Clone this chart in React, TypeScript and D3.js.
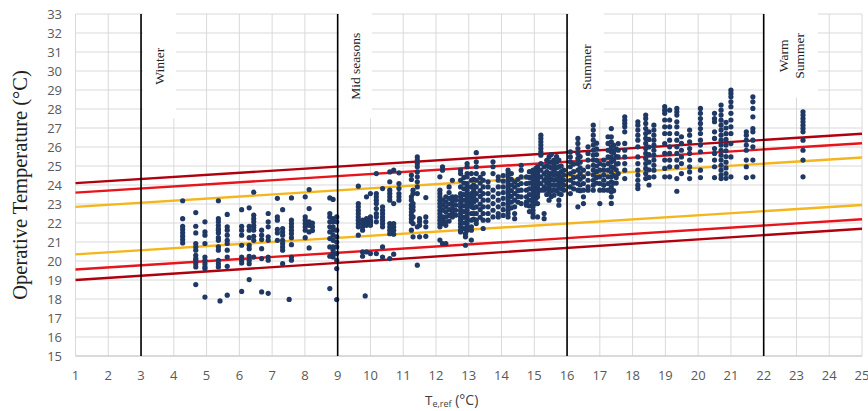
import React from "react";
import * as d3 from "d3";

// ---------- data ----------
const xTicks = d3.range(1, 26);
const yTicks = d3.range(15, 34);

const seasonNames = ["Winter", "Mid seasons", "Summer", "Warm\nSummer"];
const seasonBounds = [3, 9, 16, 22];

// comfort band lines: value at Te,ref = 1 and at Te,ref = 25
const bandStart = [24.1, 23.6, 22.85, 20.35, 19.55, 19.0];
const bandEnd = [26.7, 26.2, 25.45, 22.95, 22.2, 21.7];

// scatter, grouped by columns: [Te,ref, [operative temperatures]]
const winterPoints: [number, number[]][] = [
  [4.27, [23.17, 22.23, 21.83, 21.66, 21.48, 21.3, 21.13, 20.95]],
  [4.67, [22.55, 21.83, 21.48, 20.92, 20.74, 20.57, 20.3, 20.13, 20.04, 19.86, 19.69, 18.76]],
  [4.95, [22.06, 21.53, 21.36, 20.92, 20.21, 20.04, 19.86, 19.69, 19.6, 18.1]],
  [5.36, [23.17, 22.23, 22.06, 21.88, 21.71, 21.62, 21.48, 21.23, 21.09, 20.74, 20.57, 20.04, 19.86, 19.69]],
  [5.41, [17.9]],
  [5.63, [22.45, 21.8, 21.62, 21.36, 21.09, 20.92, 20.57, 20.21, 19.72, 18.2]],
  [6.07, [22.7, 21.83, 21.62, 21.36, 20.83, 20.21, 20.04, 19.9, 18.4]],
  [6.3, [22.8, 21.83, 21.62, 21.23, 20.83, 20.65, 20.25, 20.04, 19.86, 19.02]],
  [6.44, [23.62, 22.41, 22.23, 22.06, 21.88, 21.76, 21.62, 21.3, 21.09, 20.21]],
  [6.68, [21.62, 21.36, 21.13, 20.65, 20.13, 18.37]],
  [6.88, [22.5, 22.06, 21.8, 21.27, 21.09, 20.21, 20.04, 18.3]],
  [7.16, [23.3, 22.32, 22.15, 21.66, 21.48, 21.09]],
  [7.32, [22.7, 21.71, 21.53, 21.36, 21.09, 20.92, 20.74, 20.57, 19.86]],
  [7.52, [17.98]],
  [7.59, [23.32, 22.15, 21.97, 21.8, 21.62, 21.44, 21.23, 20.86, 20.21, 20.04]],
  [8.01, [23.38, 22.32, 22.15, 21.97, 21.8, 21.62, 21.23]],
  [8.13, [23.76, 22.76, 22.06, 21.88, 21.53, 20.69]],
  [8.23, [22.0, 21.8, 21.6]],
  [8.76, [23.32, 22.5, 22.32, 22.06, 21.8, 21.53, 21.18, 20.74, 20.25, 18.55]],
  [8.86, [23.24, 22.23, 22.06, 21.8, 21.62, 21.36, 21.09, 20.74, 20.57, 20.39, 20.21]],
  [8.97, [22.32, 22.06, 21.62, 21.27, 21.0, 20.74, 20.39, 20.04, 19.6, 17.97]],
];

const midSeasonPoints: [number, number[]][] = [
  [9.63, [23.94, 23.02, 22.85, 22.67, 22.5, 22.32, 22.15, 21.97, 21.8, 21.36]],
  [9.76, [22.15, 21.97, 21.8, 21.62, 20.48, 20.25]],
  [9.84, [18.16]],
  [9.88, [23.38, 22.23, 22.06, 21.88, 20.48]],
  [10.0, [23.55, 22.32, 22.15, 22.06, 21.97, 21.88, 20.39]],
  [10.18, [24.6, 23.55, 23.38, 23.2, 23.02, 22.76, 22.5, 22.32, 22.06, 20.39]],
  [10.37, [23.81, 22.85, 22.67, 22.5, 22.32, 22.15, 21.97, 21.8, 20.74, 20.21]],
  [10.59, [24.69, 24.17, 23.73, 23.55, 23.38, 23.2, 21.97, 21.8, 21.62, 21.44, 20.13]],
  [10.71, [24.78, 23.02, 21.97, 21.8, 21.62, 21.41, 20.36]],
  [10.87, [24.64, 24.08, 23.81, 23.55, 23.38, 23.2]],
  [11.25, [24.52, 24.29, 23.38, 23.2, 22.94, 22.76, 22.58, 22.41, 22.23, 22.06, 21.62]],
  [11.3, [23.73, 23.55, 23.02, 22.85, 22.67, 22.32, 21.97, 21.27]],
  [11.43, [25.48, 25.31, 25.13, 24.96, 24.69, 24.43, 24.17, 23.9, 23.55, 21.8, 19.78]],
  [11.5, [22.23, 22.06, 21.88, 21.27]],
  [11.69, [23.34, 22.32, 22.06, 21.8, 21.3]],
  [12.12, [24.43, 23.73, 23.55, 23.38, 23.2, 23.02, 22.85, 22.67, 22.5, 22.32, 22.15, 21.97, 21.8, 21.1]],
  [12.2, [24.96, 24.78, 23.2, 22.94, 22.67, 22.32, 22.15, 21.97, 20.92]],
  [12.3, [23.38, 23.11, 22.85, 22.59, 22.32, 22.06, 21.88, 20.92]],
  [12.4, [23.9, 23.6, 23.3, 23.0, 22.7, 22.4, 22.1]],
  [12.5, [24.25, 23.38, 23.17, 22.96, 22.75, 22.54, 22.32]],
  [12.6, [23.38, 23.2, 22.94, 22.67, 22.41]],
  [12.75, [24.78, 24.6, 24.25, 23.9, 23.55, 23.38, 23.2, 23.02, 22.85, 22.67, 22.5, 22.32, 22.15, 21.97, 21.8, 21.62, 21.53]],
  [12.85, [24.4, 24.1, 23.8, 23.5, 23.2, 22.9, 22.6, 22.3, 22.0, 21.7]],
  [12.9, [21.44, 21.27, 20.83]],
  [12.95, [25.13, 24.96, 24.6, 24.43, 24.08, 23.9, 23.73, 23.55, 23.38, 23.2, 23.02, 22.85, 22.67, 22.5, 22.32, 22.15, 21.97, 21.8, 21.62]],
  [13.08, [24.6, 24.25, 23.9, 23.55, 23.38, 23.2, 23.02, 22.85, 22.5, 22.15, 21.8, 21.62, 21.1]],
  [13.15, [24.3, 24.0, 23.7, 23.4, 23.1, 22.8, 22.5, 22.2]],
  [13.23, [25.7, 25.22, 24.96, 24.6, 24.25, 23.9, 23.55, 23.2, 22.85, 22.5, 22.15, 21.97]],
  [13.35, [24.4, 24.1, 23.7, 23.4, 23.0, 22.7, 22.3]],
  [13.44, [24.6, 24.25, 23.9, 23.55, 23.2, 22.85, 22.5, 22.15, 21.71]],
  [13.59, [24.17, 23.9, 23.55, 23.2, 22.85, 22.5, 22.15]],
  [13.74, [25.22, 24.96, 24.6, 23.73, 23.38, 23.02, 22.67, 22.32]],
  [13.9, [24.43, 24.25, 23.9, 23.55, 23.2, 22.85, 22.5, 22.32]],
  [14.05, [24.5, 24.2, 23.9, 23.6, 23.3, 23.0, 22.7, 22.4]],
  [14.2, [24.78, 24.6, 24.43, 24.25, 24.08, 23.9, 23.73, 23.55, 23.38, 23.2, 23.02, 22.85, 22.67, 22.5, 22.32]],
  [14.3, [24.6, 24.3, 24.0, 23.7, 23.4, 23.1, 22.8]],
  [14.4, [24.17, 23.9, 23.55, 23.2, 22.85, 22.5, 22.23]],
  [14.5, [24.3, 24.0, 23.7, 23.4, 23.1]],
  [14.6, [25.04, 24.78, 24.43, 24.08, 23.73, 23.38, 23.02]],
  [14.76, [24.43, 24.08, 23.73, 23.38, 23.11, 22.94]],
  [14.85, [24.7, 24.4, 24.1, 23.8, 23.5, 23.2, 22.9, 22.6]],
  [14.96, [24.78, 24.6, 24.43, 24.25, 24.08, 23.9, 23.73, 23.55, 23.38, 23.2, 23.02, 22.85, 22.67, 22.5, 22.32]],
  [15.05, [24.87, 24.6, 24.34, 24.08, 23.81, 23.55, 23.29, 23.02]],
  [15.1, [24.96, 24.78, 24.6, 24.43, 24.25, 24.08, 23.9, 23.73, 23.55, 23.38, 23.02, 22.32]],
  [15.2, [26.62, 26.45, 26.27, 26.1, 25.92, 25.75, 25.57, 25.13, 24.78, 24.43, 24.08, 23.73]],
  [15.3, [24.96, 24.6, 24.25, 23.9, 23.73, 22.5, 22.23]],
  [15.38, [25.3, 25.0, 24.7, 24.4, 24.1, 23.8, 23.5]],
  [15.45, [25.48, 25.22, 24.96, 24.6, 24.43, 24.25, 24.08, 23.9, 23.73, 23.55, 23.2]],
  [15.52, [25.6, 25.2, 24.9, 24.6, 24.3, 24.0, 23.7, 23.4]],
  [15.6, [25.31, 25.04, 24.78, 24.52, 24.25, 23.99, 23.73, 23.46]],
  [15.68, [25.5, 25.2, 24.9, 24.6, 24.3, 24.0, 23.7]],
  [15.75, [25.31, 24.96, 24.6, 24.43, 24.25, 24.08, 23.9, 23.55, 23.2, 22.94]],
  [15.82, [25.0, 24.7, 24.4, 24.1, 23.8, 23.5]],
  [15.9, [24.78, 24.52, 24.25, 23.99, 23.73]],
];

const summerPoints: [number, number[]][] = [
  [16.1, [25.74, 25.48, 25.22, 24.96, 24.6, 24.25, 23.9, 23.55]],
  [16.2, [25.1, 24.7, 24.4, 24.1, 23.8]],
  [16.33, [26.45, 26.19, 25.92, 25.66, 25.4, 25.13, 24.78, 24.43, 24.08, 23.73, 22.85]],
  [16.4, [25.5, 25.2, 24.9, 24.6, 24.3, 24.0, 23.7]],
  [16.5, [24.78, 24.43, 24.08, 23.73, 23.38, 23.02]],
  [16.64, [26.01, 25.66, 25.31, 24.96, 24.6, 24.25, 23.9, 23.73]],
  [16.8, [27.15, 26.89, 26.62, 26.36, 26.1, 25.83, 25.57, 25.31, 25.04, 24.78, 24.52, 24.25, 23.99, 23.73]],
  [16.9, [26.2, 25.9, 25.6, 25.3, 25.0, 24.7, 24.4, 24.1]],
  [17.0, [25.13, 24.78, 24.43, 24.08, 23.73, 23.02]],
  [17.12, [25.31, 25.04, 24.78, 24.52, 24.25, 23.99, 23.73]],
  [17.25, [26.54, 26.19, 25.83, 25.48, 25.13, 24.78, 24.43, 24.08, 23.73]],
  [17.35, [26.97, 26.54, 26.27, 26.01, 25.75, 25.48, 25.22, 24.96, 24.69, 24.43, 24.17, 23.9, 23.64, 23.38, 23.03]],
  [17.42, [26.1, 25.7, 25.3, 24.9, 24.5, 24.1, 23.7]],
  [17.5, [25.9, 25.5, 25.1, 24.8, 24.4, 24.1]],
  [17.56, [26.18, 25.83, 25.48, 25.13, 24.6]],
  [17.76, [27.59, 27.41, 27.24, 27.06, 26.8, 26.19, 25.83, 25.48, 25.13, 24.78, 24.34]],
  [18.16, [27.33, 27.15, 26.89, 26.62, 26.36, 26.01, 25.48, 25.13, 24.78, 24.52, 24.25, 23.99, 23.81]],
  [18.4, [27.68, 27.5, 27.24, 26.97, 26.71, 26.45, 26.19, 25.92, 25.66, 25.4, 25.13, 24.87, 24.6, 24.34]],
  [18.5, [26.8, 26.4, 26.0, 25.6, 25.2, 24.8, 24.4, 24.0]],
  [18.65, [27.15, 26.89, 26.62, 26.36, 26.1, 25.83, 25.57, 25.31, 25.04, 24.78, 24.43]],
  [18.98, [28.12, 27.94, 27.77, 27.42, 27.06, 26.71, 26.18, 25.66, 25.31, 24.87, 24.43]],
  [19.13, [27.94, 27.42, 27.06, 26.71, 26.36, 26.01, 25.66, 25.31, 24.96, 24.43]],
  [19.35, [28.03, 27.85, 27.68, 27.33, 27.06, 26.71, 26.36, 26.01, 25.66, 25.31, 24.96, 24.34, 23.67]],
  [19.49, [26.54, 26.19, 25.83, 25.48, 25.13, 24.6]],
  [19.74, [26.89, 26.62, 26.27, 25.92, 25.66, 25.31, 24.96, 24.69, 24.34]],
  [20.07, [28.03, 27.77, 27.5, 27.24, 26.97, 26.71, 26.36, 26.1, 25.75, 25.31, 24.78, 24.39]],
  [20.5, [27.77, 27.5, 27.33, 26.8, 26.45, 25.92, 25.66, 25.31, 24.96, 24.39]],
  [20.7, [28.21, 27.94, 27.68, 27.41, 27.15, 26.89, 26.62, 26.36, 26.1, 25.83, 25.57, 25.31, 25.04, 24.78, 24.52, 24.34]],
  [20.85, [27.3, 27.0, 26.7, 26.4, 26.1, 25.8, 25.5, 25.2, 24.9, 24.6, 24.35]],
  [21.0, [28.99, 28.82, 28.64, 28.38, 28.12, 27.77, 27.42, 27.06, 26.71, 26.18, 25.48, 24.43]],
  [21.47, [26.8, 26.62, 26.36, 26.1, 25.83, 25.31, 24.96, 24.39]],
  [21.67, [28.64, 28.38, 28.03, 27.59, 26.97, 26.8, 26.36, 26.01, 25.31, 24.43]],
];

const warmSummerPoints: [number, number[]][] = [
  [23.2, [27.85, 27.68, 27.5, 27.33, 27.15, 26.97, 26.8, 26.36, 25.83, 25.31, 24.43]],
];

// ---------- layout / style ----------
const W = 868;
const H = 411;
const plot = { left: 75.5, right: 862, top: 14, bottom: 356 };
const bandColors = ["#b0000e", "#e8141b", "#f4b61c", "#f4b61c", "#e8141b", "#b0000e"];
// label boxes in data units: [x0, x1, yBottom]
const seasonBoxes: [number, number, number][] = [
  [3.06, 4.06, 27.5],
  [9.04, 10.05, 27.5],
  [16.05, 17.12, 27.4],
  [22.04, 23.65, 28.6],
];

export default function App() {
  const x = d3.scaleLinear().domain([1, 25]).range([plot.left, plot.right]);
  const y = d3.scaleLinear().domain([15, 33]).range([plot.bottom, plot.top]);

  const allCols = [...winterPoints, ...midSeasonPoints, ...summerPoints, ...warmSummerPoints];
  const pts: { x: number; y: number }[] = [];
  allCols.forEach(([cx, ys]) => ys.forEach((v) => pts.push({ x: cx, y: v })));

  const line = d3
    .line<[number, number]>()
    .x((d) => x(d[0]))
    .y((d) => y(d[1]));

  return (
    <svg
      width={W}
      height={H}
      style={{ position: "absolute", left: 0, top: 0, background: "#fff" }}
    >
      {/* grid */}
      {yTicks.map((t) => (
        <line key={"gy" + t} x1={plot.left} x2={plot.right} y1={y(t)} y2={y(t)} stroke="#d9d9d9" strokeWidth={1} />
      ))}
      {xTicks.map((t) => (
        <line key={"gx" + t} x1={x(t)} x2={x(t)} y1={plot.top} y2={plot.bottom} stroke="#d9d9d9" strokeWidth={1} />
      ))}
      <line x1={plot.left} x2={plot.right} y1={plot.bottom} y2={plot.bottom} stroke="#c8c8c8" strokeWidth={1.2} />

      {/* season label boxes */}
      {seasonBoxes.map(([a, b, yb], i) => (
        <rect key={"sb" + i} x={x(a)} y={plot.top - 2} width={x(b) - x(a)} height={y(yb) - plot.top + 2} fill="#fff" />
      ))}

      {/* comfort band lines */}
      {bandStart.map((s, i) => (
        <path
          key={"band" + i}
          d={line([
            [1, s],
            [25, bandEnd[i]],
          ]) as string}
          stroke={bandColors[i]}
          strokeWidth={2.4}
          fill="none"
        />
      ))}

      {/* points */}
      {pts.map((p, i) => (
        <circle key={"p" + i} cx={x(p.x)} cy={y(p.y)} r={2.6} fill="#1f3864" />
      ))}

      {/* season boundaries */}
      {seasonBounds.map((b) => (
        <line key={"sl" + b} x1={x(b)} x2={x(b)} y1={plot.top} y2={plot.bottom} stroke="#000" strokeWidth={1.6} />
      ))}

      {/* season labels */}
      {seasonNames.map((name, i) => {
        const [a, b, yb] = seasonBoxes[i];
        const cx = (x(a) + x(b)) / 2;
        const cy = (plot.top + y(yb)) / 2;
        const lines = name.split("\n");
        return (
          <text
            key={"st" + i}
            transform={`translate(${cx},${cy}) rotate(-90)`}
            textAnchor="middle"
            fontFamily="'Liberation Serif', serif"
            fontSize={13.5}
            fill="#222"
          >
            {lines.map((l, j) => (
              <tspan key={j} x={0} dy={j === 0 ? (lines.length === 1 ? 4.5 : -3) : 16}>
                {l}
              </tspan>
            ))}
          </text>
        );
      })}

      {/* y tick labels */}
      {yTicks.map((t) => (
        <text
          key={"yl" + t}
          x={62}
          y={y(t)}
          dy="0.35em"
          textAnchor="end"
          fontFamily="'Open Sans', sans-serif"
          fontSize={13}
          fill="#595959"
        >
          {t}
        </text>
      ))}
      {/* x tick labels */}
      {xTicks.map((t) => (
        <text
          key={"xl" + t}
          x={x(t)}
          y={380}
          textAnchor="middle"
          fontFamily="'Open Sans', sans-serif"
          fontSize={13}
          fill="#595959"
        >
          {t}
        </text>
      ))}

      {/* axis titles */}
      <text
        transform={`translate(27,${(plot.top + plot.bottom) / 2}) rotate(-90)`}
        textAnchor="middle"
        fontFamily="'Liberation Serif', serif"
        fontSize={20.5}
        fill="#222"
      >
        Operative Temperature (°C)
      </text>
      <text x={425} y={405} fontFamily="'Open Sans', sans-serif" fontSize={13.5} fill="#404040">
        T
        <tspan fontSize={9} dy={2}>e,ref</tspan>
        <tspan fontSize={14} dy={-2}> (°C)</tspan>
      </text>
    </svg>
  );
}
